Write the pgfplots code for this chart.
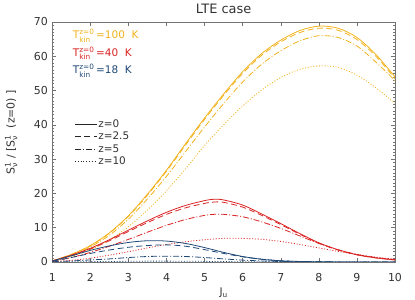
\documentclass[border=0pt]{standalone}
\usepackage{pgfplots}
\pgfplotsset{compat=1.18}
\usepackage{pgfplotstable}
\usepackage{amsmath}
\usepackage{fontspec}
\setmainfont{DejaVu Sans}
\definecolor{corange}{RGB}{242,178,28}
\definecolor{cred}{RGB}{218,35,35}
\definecolor{cblue}{RGB}{30,72,118}
\definecolor{caxis}{RGB}{115,115,115}

\pgfplotstableread{
J z0 z25 z5 z10
1 0.3 0.3 0.3 0.2
1.5 2.2 2.2 2.0 1.6
2 4.8 4.7 4.4 3.6
2.5 8.5 8.4 7.8 6.4
3 13.5 13.3 12.5 10.3
3.5 19.8 19.5 18.4 15.2
4 26.8 26.5 25.0 20.8
4.5 34.5 34.1 32.2 27.2
5 42.0 41.6 39.4 34.0
5.5 49.0 48.6 46.2 40.0
6 55.5 55.0 52.5 45.5
6.5 60.8 60.3 57.7 50.2
7 64.7 64.2 61.6 53.8
7.5 67.5 66.9 64.5 56.2
8 68.8 68.2 66.0 57.2
8.5 68.2 67.6 65.5 56.8
9 65.5 64.9 63.0 54.5
9.5 60.5 60.0 58.3 50.8
10 54.0 53.5 52.9 46.3
}\torange

\pgfplotstableread{
J z0 z25 z5 z10
1 0.3 0.3 0.2 0.1
1.5 2.0 1.9 1.3 0.5
2 4.0 3.8 2.8 1.1
2.5 6.5 6.2 4.6 2.0
3 9.3 8.9 6.6 3.0
3.5 12.0 11.5 8.7 4.1
4 14.5 13.9 10.7 5.1
4.5 16.5 15.8 12.4 5.9
5 17.9 17.1 13.6 6.5
5.25 18.3 17.5 13.9 6.7
5.5 18.1 17.4 13.9 6.9
6 16.6 16.0 13.2 6.9
6.5 14.0 13.6 11.7 6.6
7 11.2 10.9 9.8 6.0
7.5 8.3 8.1 7.6 5.1
8 5.6 5.5 5.4 4.1
8.5 3.6 3.5 3.6 3.1
9 2.1 2.1 2.2 2.2
9.5 1.2 1.2 1.3 1.4
10 0.6 0.6 0.7 0.8
}\tred

\pgfplotstableread{
J z0 z25 z5 z10
1 0.3 0.2 0.05 0.0
1.5 1.8 1.3 0.3 0.05
2 3.4 2.5 0.6 0.1
2.5 4.7 3.5 0.9 0.15
3 5.7 4.3 1.3 0.2
3.5 6.2 4.8 1.6 0.25
4 6.1 5.0 1.7 0.25
4.5 5.4 4.6 1.6 0.22
5 4.2 3.6 1.3 0.18
5.5 2.8 2.5 0.9 0.12
6 1.6 1.5 0.55 0.08
6.5 0.8 0.8 0.3 0.05
7 0.35 0.35 0.15 0.03
7.5 0.15 0.15 0.07 0.02
8 0.06 0.06 0.03 0.01
8.5 0.02 0.02 0.01 0.0
9 0.01 0.01 0.0 0.0
9.5 0.0 0.0 0.0 0.0
10 0.0 0.0 0.0 0.0
}\tblue

\tikzset{
  s0/.style={solid},
  s25/.style={dash pattern=on 6bp off 3.5bp},
  s5/.style={dash pattern=on 6bp off 2bp on 1bp off 2bp},
  s10/.style={dash pattern=on 1bp off 1.8bp},
}

\begin{document}
\begin{tikzpicture}
\begin{axis}[
  scale only axis, width=342.7bp, height=240bp,
  xmin=1, xmax=10, ymin=0, ymax=70,
  xtick={1,2,...,10}, ytick={0,10,...,70},
  minor y tick num=9,
  tick align=inside, major tick length=4bp, minor tick length=2bp,
  axis line style={caxis},
  every tick/.style={caxis, line width=0.5bp},
  /pgf/number format/assume math mode=true,
  tick label style={font=\fontsize{11}{13}\selectfont, text=black!80},
  xticklabel style={yshift=-8bp},
  yticklabel style={xshift=-1bp},
  title={LTE case},
  title style={font=\fontsize{13}{15}\selectfont, text=black!80, yshift=-1bp},
  xlabel={J$_{\text{u}}$},
  xlabel style={at={(axis description cs:0.5,-0.095)}, anchor=north, font=\fontsize{10.5}{12}\selectfont, text=black!80},
  ylabel={S$^{\text{1}}_{\text{ν}}$ / [S$^{\text{1}}_{\text{ν}}$ \ (z=0) ]},
  ylabel style={at={(axis description cs:-0.12,0.54)}, anchor=center, font=\fontsize{11}{13}\selectfont, text=black!80},
  every axis plot/.append style={line width=0.8bp},
  legend image code/.code={\draw[#1] (0bp,0bp) -- (22bp,0bp);},
  legend style={at={(axis cs:1.5,42.5)}, anchor=north west, draw=none, fill=none,
    font=\fontsize{10.5}{12}\selectfont, text=black!80, row sep=1.2bp,
    nodes={inner sep=1bp}},
  legend cell align=left,
]
\addlegendimage{black!85, line width=0.8bp, s0}
\addlegendentry{z=0}
\addlegendimage{black!85, line width=0.8bp, s25}
\addlegendentry{z=2.5}
\addlegendimage{black!85, line width=0.8bp, s5}
\addlegendentry{z=5}
\addlegendimage{black!85, line width=0.8bp, s10}
\addlegendentry{z=10}

\addplot[forget plot, corange, s0, smooth] table[x=J,y=z0] {\torange};
\addplot[forget plot, corange, s25, smooth] table[x=J,y=z25] {\torange};
\addplot[forget plot, corange, s5, smooth] table[x=J,y=z5] {\torange};
\addplot[forget plot, corange, s10, smooth] table[x=J,y=z10] {\torange};

\addplot[forget plot, cred, s0, smooth] table[x=J,y=z0] {\tred};
\addplot[forget plot, cred, s25, smooth] table[x=J,y=z25] {\tred};
\addplot[forget plot, cred, s5, smooth] table[x=J,y=z5] {\tred};
\addplot[forget plot, cred, s10, smooth] table[x=J,y=z10] {\tred};

\addplot[forget plot, cblue, s0, smooth] table[x=J,y=z0] {\tblue};
\addplot[forget plot, cblue, s25, smooth] table[x=J,y=z25] {\tblue};
\addplot[forget plot, cblue, s5, smooth] table[x=J,y=z5] {\tblue};
\addplot[forget plot, cblue, s10, smooth] table[x=J,y=z10] {\tblue};

\node[anchor=west, text=corange, font=\fontsize{10.5}{12}\selectfont] at (axis cs:1.45,66.0) {T$^{\text{z=0}}_{\text{kin}}$\,=100\ \ K};
\node[anchor=west, text=cred, font=\fontsize{10.5}{12}\selectfont] at (axis cs:1.45,60.9) {T$^{\text{z=0}}_{\text{kin}}$\,=40\ \ K};
\node[anchor=west, text=cblue, font=\fontsize{10.5}{12}\selectfont] at (axis cs:1.45,55.8) {T$^{\text{z=0}}_{\text{kin}}$\,=18\ \ K};
\end{axis}
\pgfresetboundingbox
\path ([shift={(-52.3bp,-38bp)}]current axis.south west) rectangle ([shift={(20bp,22bp)}]current axis.north east);
\end{tikzpicture}
\end{document}
